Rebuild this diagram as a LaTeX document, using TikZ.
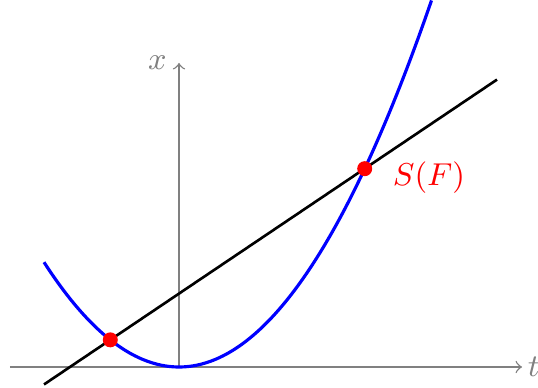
\documentclass[tikz,border=0pt]{standalone}
\begin{document}
\begin{tikzpicture}[
  font=\small,
  axis/.style={gray,->},
  axlabel/.style={gray},
  curve/.style={blue,line width=0.9pt},
  secant/.style={black,line width=0.75pt},
  dot/.style={circle,fill=red,inner sep=0pt,minimum size=0.15cm},
  lab/.style={red}
]
\useasboundingbox (-1.79,-0.21) rectangle (3.59,3.67);
\coordinate (o) at (0,0);
\coordinate (tstart) at (-1.69,0);
\coordinate (tend) at (3.43,0);
\coordinate (xend) at (0,3.04);
\draw[axis] (tstart) -- (tend);
\draw[axis] (o) -- (xend);
\node[axlabel,right,inner sep=1.5pt] (tl) at (tend) {$t$};
\node[axlabel,left] (xl) at (xend) {$x$};
\draw[curve] plot[domain=-1.35:2.526,samples=120,smooth] (\x,{0.575*\x*\x});
\coordinate (l1) at (-1.35,-0.1746);
\coordinate (l2) at (3.18,2.874);
\draw[secant] (l1) -- (l2);
\node[dot] (p1) at (-0.687,0.2714) {};
\node[dot] (p2) at (1.857,1.983) {};
\node[lab] (sf) at (2.50,1.89) {$S(F)$};
\end{tikzpicture}
\end{document}
